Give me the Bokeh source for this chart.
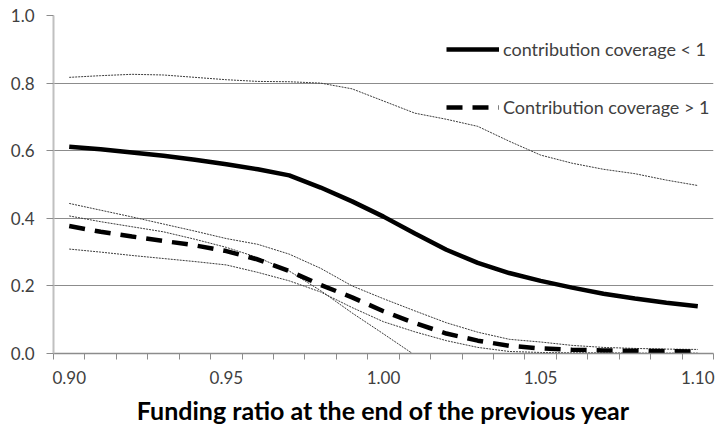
from bokeh.plotting import figure
from bokeh.models import (FixedTicker, PrintfTickFormatter, Legend, LegendItem,
                          Range1d, ColumnDataSource)
from bokeh.embed import file_html
from bokeh.resources import INLINE

# ---- data ----
funding_ratio = [0.90, 0.91, 0.92, 0.93, 0.94, 0.95, 0.96, 0.97, 0.98, 0.99, 1.00,
                 1.01, 1.02, 1.03, 1.04, 1.05, 1.06, 1.07, 1.08, 1.09, 1.10]

cc_below_1 = [0.612, 0.604, 0.595, 0.585, 0.573, 0.560, 0.545, 0.527, 0.491, 0.450, 0.405,
              0.355, 0.307, 0.268, 0.238, 0.215, 0.195, 0.177, 0.163, 0.150, 0.140]
cc_below_1_upper = [0.817, 0.822, 0.826, 0.824, 0.817, 0.810, 0.805, 0.804, 0.800, 0.783, 0.747,
                    0.711, 0.693, 0.672, 0.628, 0.587, 0.563, 0.545, 0.532, 0.513, 0.497]
cc_below_1_lower = [0.407, 0.390, 0.375, 0.360, 0.338, 0.314, 0.284, 0.244, 0.186, 0.120, 0.058,
                    -0.005, -0.079, -0.136, -0.152, -0.157, -0.173, -0.191, -0.206, -0.213, -0.217]

cc_above_1 = [0.377, 0.360, 0.346, 0.333, 0.320, 0.303, 0.278, 0.244, 0.203, 0.166, 0.125,
              0.090, 0.059, 0.038, 0.023, 0.015, 0.011, 0.009, 0.008, 0.007, 0.006]
cc_above_1_upper = [0.444, 0.424, 0.404, 0.383, 0.362, 0.340, 0.323, 0.294, 0.252, 0.200, 0.162,
                    0.126, 0.091, 0.063, 0.042, 0.034, 0.024, 0.018, 0.015, 0.013, 0.012]
cc_above_1_lower = [0.309, 0.300, 0.290, 0.281, 0.272, 0.262, 0.240, 0.215, 0.182, 0.136, 0.094,
                    0.064, 0.038, 0.018, 0.006, 0.003, 0.002, 0.002, 0.001, 0.001, 0.001]

x_tick_labels = [0.90, 0.95, 1.00, 1.05, 1.10]
y_ticks = [0.0, 0.2, 0.4, 0.6, 0.8, 1.0]

legend_labels = ["contribution coverage < 1", "Contribution coverage > 1"]
x_title = "Funding ratio at the end of the previous year"

# ---- figure ----
step = funding_ratio[1] - funding_ratio[0]
x_start = funding_ratio[0] - step / 2
x_end = funding_ratio[-1] + step / 2
boundaries = [x - step / 2 for x in funding_ratio] + [x_end]

FONT = "Lato"
TXT = "#404040"
GRID = "#8c8c8c"

p = figure(frame_width=660, frame_height=338,
           min_border_left=53, min_border_right=4, min_border_top=15, min_border_bottom=74,
           x_range=Range1d(x_start, x_end), y_range=Range1d(0, 1),
           output_backend="svg", toolbar_location=None, tools="")
p.outline_line_color = None
p.background_fill_color = "white"
p.border_fill_color = "white"

src = ColumnDataSource(dict(x=funding_ratio, a=cc_below_1, au=cc_below_1_upper,
                            al=cc_below_1_lower, b=cc_above_1, bu=cc_above_1_upper,
                            bl=cc_above_1_lower))

band_kw = dict(line_color="#3c3c3c", line_width=1, line_dash="2 1")
for col in ["au", "al", "bu", "bl"]:
    p.line("x", col, source=src, **band_kw)

r_solid = p.line("x", "a", source=src, line_color="black", line_width=4.5)
r_dash = p.line("x", "b", source=src, line_color="black", line_width=4.5,
                line_dash="16 10")

# axes
xa = p.xaxis[0]
xa.ticker = FixedTicker(ticks=x_tick_labels, minor_ticks=boundaries)
xa.formatter = PrintfTickFormatter(format="%.2f")
xa.major_tick_line_color = None
xa.minor_tick_line_color = GRID
xa.minor_tick_in = 0
xa.minor_tick_out = 6
xa.axis_line_color = GRID
xa.axis_line_width = 1.5
xa.major_label_text_font = FONT
xa.major_label_text_font_size = "17px"
xa.major_label_text_color = TXT
xa.major_label_standoff = 11
xa.axis_label = x_title
xa.axis_label_text_font = FONT
xa.axis_label_text_font_size = "25px"
xa.axis_label_text_font_style = "bold"
xa.axis_label_text_color = "black"
xa.axis_label_standoff = 8

ya = p.yaxis[0]
ya.ticker = FixedTicker(ticks=y_ticks, minor_ticks=[])
ya.formatter = PrintfTickFormatter(format="%.1f")
ya.major_tick_line_color = GRID
ya.major_tick_in = 0
ya.major_tick_out = 7
ya.minor_tick_line_color = None
ya.axis_line_color = "#c0c0c0"
ya.axis_line_width = 2
ya.major_label_text_font = FONT
ya.major_label_text_font_size = "17px"
ya.major_label_text_color = TXT
ya.major_label_standoff = 12

p.xgrid.grid_line_color = None
p.ygrid.grid_line_color = GRID
p.ygrid.grid_line_width = 1
p.ygrid.ticker = FixedTicker(ticks=y_ticks)

legend = Legend(items=[LegendItem(label=legend_labels[0], renderers=[r_solid]),
                       LegendItem(label=legend_labels[1], renderers=[r_dash])],
                location=(393, 234), orientation="vertical",
                border_line_color=None, background_fill_alpha=0,
                glyph_width=53, glyph_height=24, label_height=24,
                label_standoff=4, spacing=34, padding=10, margin=0,
                label_text_font=FONT, label_text_font_size="18px",
                label_text_color=TXT)
p.add_layout(legend)

open("out.html", "w").write(file_html(p, INLINE))
